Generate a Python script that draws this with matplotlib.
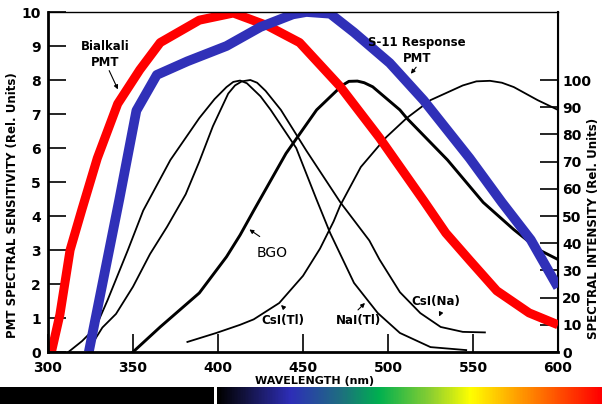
import numpy as np
import matplotlib
matplotlib.use("Agg")
import matplotlib.pyplot as plt
from matplotlib.colors import LinearSegmentedColormap

plt.rcParams['font.family'] = ['DejaVu Sans']

# PMT spectral sensitivity (left axis, rel. units 0-10)
bialkali_wl = [302, 307, 313, 320, 329, 341, 354, 366, 389, 409, 429, 448, 472, 495, 521, 534, 548, 564, 583, 600]
bialkali_val = [0, 1.1, 3.0, 4.2, 5.7, 7.3, 8.3, 9.1, 9.76, 9.97, 9.6, 9.1, 7.8, 6.3, 4.45, 3.5, 2.7, 1.8, 1.15, 0.8]

s11_wl = [324, 332, 342, 352, 364, 382, 405, 425, 444, 452, 466, 480, 501, 521, 548, 567, 584, 600]
s11_val = [0, 2.0, 4.5, 7.1, 8.15, 8.55, 9.0, 9.56, 9.93, 10.0, 9.95, 9.4, 8.5, 7.4, 5.7, 4.4, 3.3, 1.9]

# scintillator emission spectra (right axis, rel. units 0-100)
nai_wl = [312, 320, 328, 335, 347, 356, 372, 389, 398, 405, 409, 413, 417, 420, 425, 431, 446, 458, 466, 480, 494, 507, 525, 546]
nai_val = [0, 4, 9, 19, 37.5, 52, 70.6, 86, 93, 97.4, 99.3, 99.8, 98.8, 97, 94, 89, 75, 56, 43.7, 25.4, 14.3, 7, 1.8, 0.7]

csna_wl = [327, 332, 340, 350, 360, 370, 381, 389, 397, 406, 410, 414, 419, 423, 428, 437, 452, 472, 489, 495, 507, 519, 531, 544, 557]
csna_val = [4, 9, 14, 24, 36, 46, 58, 70, 83, 95, 98, 99.5, 100, 99, 96, 89, 74, 55, 41, 34, 22, 14.3, 9.2, 7.4, 7.2]

cstl_wl = [382, 399, 413, 421, 436, 450, 460, 468, 472, 484, 499, 511, 525, 544, 552, 560, 567, 574, 588, 600]
cstl_val = [3.7, 7, 10, 12, 18, 28, 38, 48, 54, 68, 79, 86, 92.6, 98, 99.5, 99.7, 99, 97.4, 92.6, 89]

bgo_wl = [350, 366, 389, 405, 413, 421, 440, 458, 473, 477, 482, 486, 491, 507, 511, 535, 556, 574, 589, 600]
bgo_val = [0, 9.2, 21.7, 35, 43, 52, 73, 89, 98, 99.5, 99.6, 99, 97.5, 89, 86, 70.6, 55, 45, 37.5, 34]

W, H = 602, 404
fig = plt.figure(figsize=(W / 100, H / 100), dpi=100)
ax = fig.add_axes([48 / W, 52 / H, 510 / W, 340 / H])
ax2 = ax.twinx()

ax2.plot(nai_wl, nai_val, color='black', lw=1.3)
ax2.plot(csna_wl, csna_val, color='black', lw=1.3)
ax2.plot(cstl_wl, cstl_val, color='black', lw=1.3)
ax2.plot(bgo_wl, bgo_val, color='black', lw=2.1)

ax.plot(bialkali_wl, bialkali_val, color='#ff0000', lw=6.5, solid_capstyle='butt')
ax.plot(s11_wl, s11_val, color='#3030b8', lw=7, solid_capstyle='butt')

# red/blue over black curves
ax.set_zorder(ax2.get_zorder() + 1)
ax.patch.set_visible(False)

ax.set_xlim(300, 600)
ax.set_ylim(0, 10)
ax2.set_ylim(0, 125)
ax.set_xticks(range(300, 601, 50))
ax.set_yticks(range(0, 11))
ax2.set_yticks(range(0, 101, 10))

ax.tick_params(axis='both', direction='in', length=13, width=1.2, labelsize=10, pad=5)
ax.tick_params(axis='x', pad=6.5)
ax2.tick_params(axis='y', direction='in', length=13, width=1.2, labelsize=10, pad=3)
for lab in ax.get_xticklabels() + ax.get_yticklabels() + ax2.get_yticklabels():
    lab.set_fontweight('bold')

ax.spines['left'].set_linewidth(2)
ax.spines['bottom'].set_linewidth(2)
ax.spines['top'].set_linewidth(1)
ax2.spines['right'].set_linewidth(1.5)
for s in ['left', 'bottom', 'top']:
    ax2.spines[s].set_visible(False)

fig.text(13 / W, 1 - 205 / H, 'PMT SPECTRAL SENSITIVITY (Rel. Units)', rotation=90,
         ha='center', va='center', fontsize=8.5, fontweight='bold')
fig.text(593 / W, 1 - 228 / H, 'SPECTRAL INTENSITY (Rel. Units)', rotation=90,
         ha='center', va='center', fontsize=8.5, fontweight='bold')
fig.text(315 / W, 1 - 380.8 / H, 'WAVELENGTH (nm)', ha='center', va='center',
         fontsize=8, fontweight='bold')

arrow = dict(arrowstyle='-|>', color='black', lw=0.8, mutation_scale=6)


def label(txt, pos, tail, head, bold=True, size=8.5):
    ax.text(pos[0], pos[1], txt, ha='center', va='center', fontsize=size,
            fontweight='bold' if bold else 'normal', linespacing=1.3)
    ax.annotate('', xy=head, xytext=tail, arrowprops=arrow)


label('Bialkali\nPMT', (333.5, 8.74), (335.3, 8.35), (341.8, 7.65))
label('S-11 Response\nPMT', (517, 8.88), (517.6, 8.44), (512.4, 8.12))
label('BGO', (431.8, 2.91), (425.9, 3.35), (417.1, 3.65), bold=False, size=10)
label('CsI(Tl)', (438.2, 0.94), (440, 1.24), (435.9, 1.44))
label('NaI(Tl)', (482.4, 0.94), (481.2, 1.18), (487.6, 1.5))
label('CsI(Na)', (528.2, 1.5), (531.8, 1.24), (529.4, 0.97))

# spectrum bar along the bottom
bar_pos = [0, 0.06, 0.19, 0.32, 0.42, 0.56, 0.66, 0.78, 0.91, 1.0]
bar_cols = ['#000000', '#101035', '#2e2eb8', '#1e6e80', '#00b050', '#90d030',
            '#ffff00', '#ffa000', '#ff4000', '#ff0000']
cmap = LinearSegmentedColormap.from_list('spec', list(zip(bar_pos, bar_cols)))

bk = fig.add_axes([0, 0, 214 / W, 17 / H])
bk.set_facecolor('black')
bk.set_xticks([])
bk.set_yticks([])
for s in bk.spines.values():
    s.set_visible(False)

gr = fig.add_axes([217 / W, 0, 385 / W, 17 / H])
gr.imshow(np.linspace(0, 1, 400)[None, :], aspect='auto', cmap=cmap)
gr.axis('off')

fig.savefig('out.png', dpi=100)
